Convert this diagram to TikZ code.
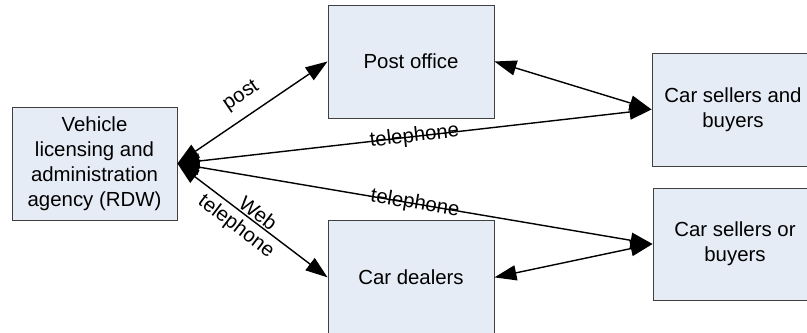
\documentclass[tikz,border=0pt]{standalone}
\usepackage{fontspec}
\setmainfont{Liberation Sans}
\usetikzlibrary{arrows.meta, positioning}
\definecolor{boxfill}{RGB}{230,236,246}

\begin{document}
\begin{tikzpicture}[x=0.025cm, y=-0.025cm, line width=1pt,
    >={Triangle[length=0.55cm, width=0.38cm]},
    font=\fontsize{14.5}{17.8}\selectfont,
    box/.style={draw=black!75, line width=0.6pt, fill=boxfill, align=center,
        minimum width=4.15cm, minimum height=2.825cm, inner sep=2pt}]
    \useasboundingbox (0,0) rectangle (807,333);

    \node[box, minimum width=4.125cm] (rdw) at (94.5,163.5) {Vehicle\\licensing and\\administration\\agency (RDW)};
    \node[box] (post) at (411,61.5) {Post office};
    \node[box, below=2.55cm of post] (dealers) {Car dealers};
    \node[box, minimum width=4.05cm] (sab) at (733,109.5) {Car sellers and\\buyers};
    \node[box, minimum width=4.1cm, minimum height=2.8cm] (sob) at (735,244) {Car sellers or\\buyers};

    \draw[<->] (rdw.east) -- node[sloped, above=4pt] {post} (post.west);
    \draw[<->] (rdw.east) -- node[sloped] {telephone} (sab.west);
    \draw[<->] (rdw.east) -- node[sloped] {telephone} (sob.west);
    \draw[<->] (rdw.east) -- node[sloped, above, inner sep=1pt] {Web}
        node[sloped, below, pos=0.45] {telephone} (dealers.west);
    \draw[<->] (post.east) -- (sab.west);
    \draw[<->] (dealers.east) -- (sob.west);
\end{tikzpicture}
\end{document}
